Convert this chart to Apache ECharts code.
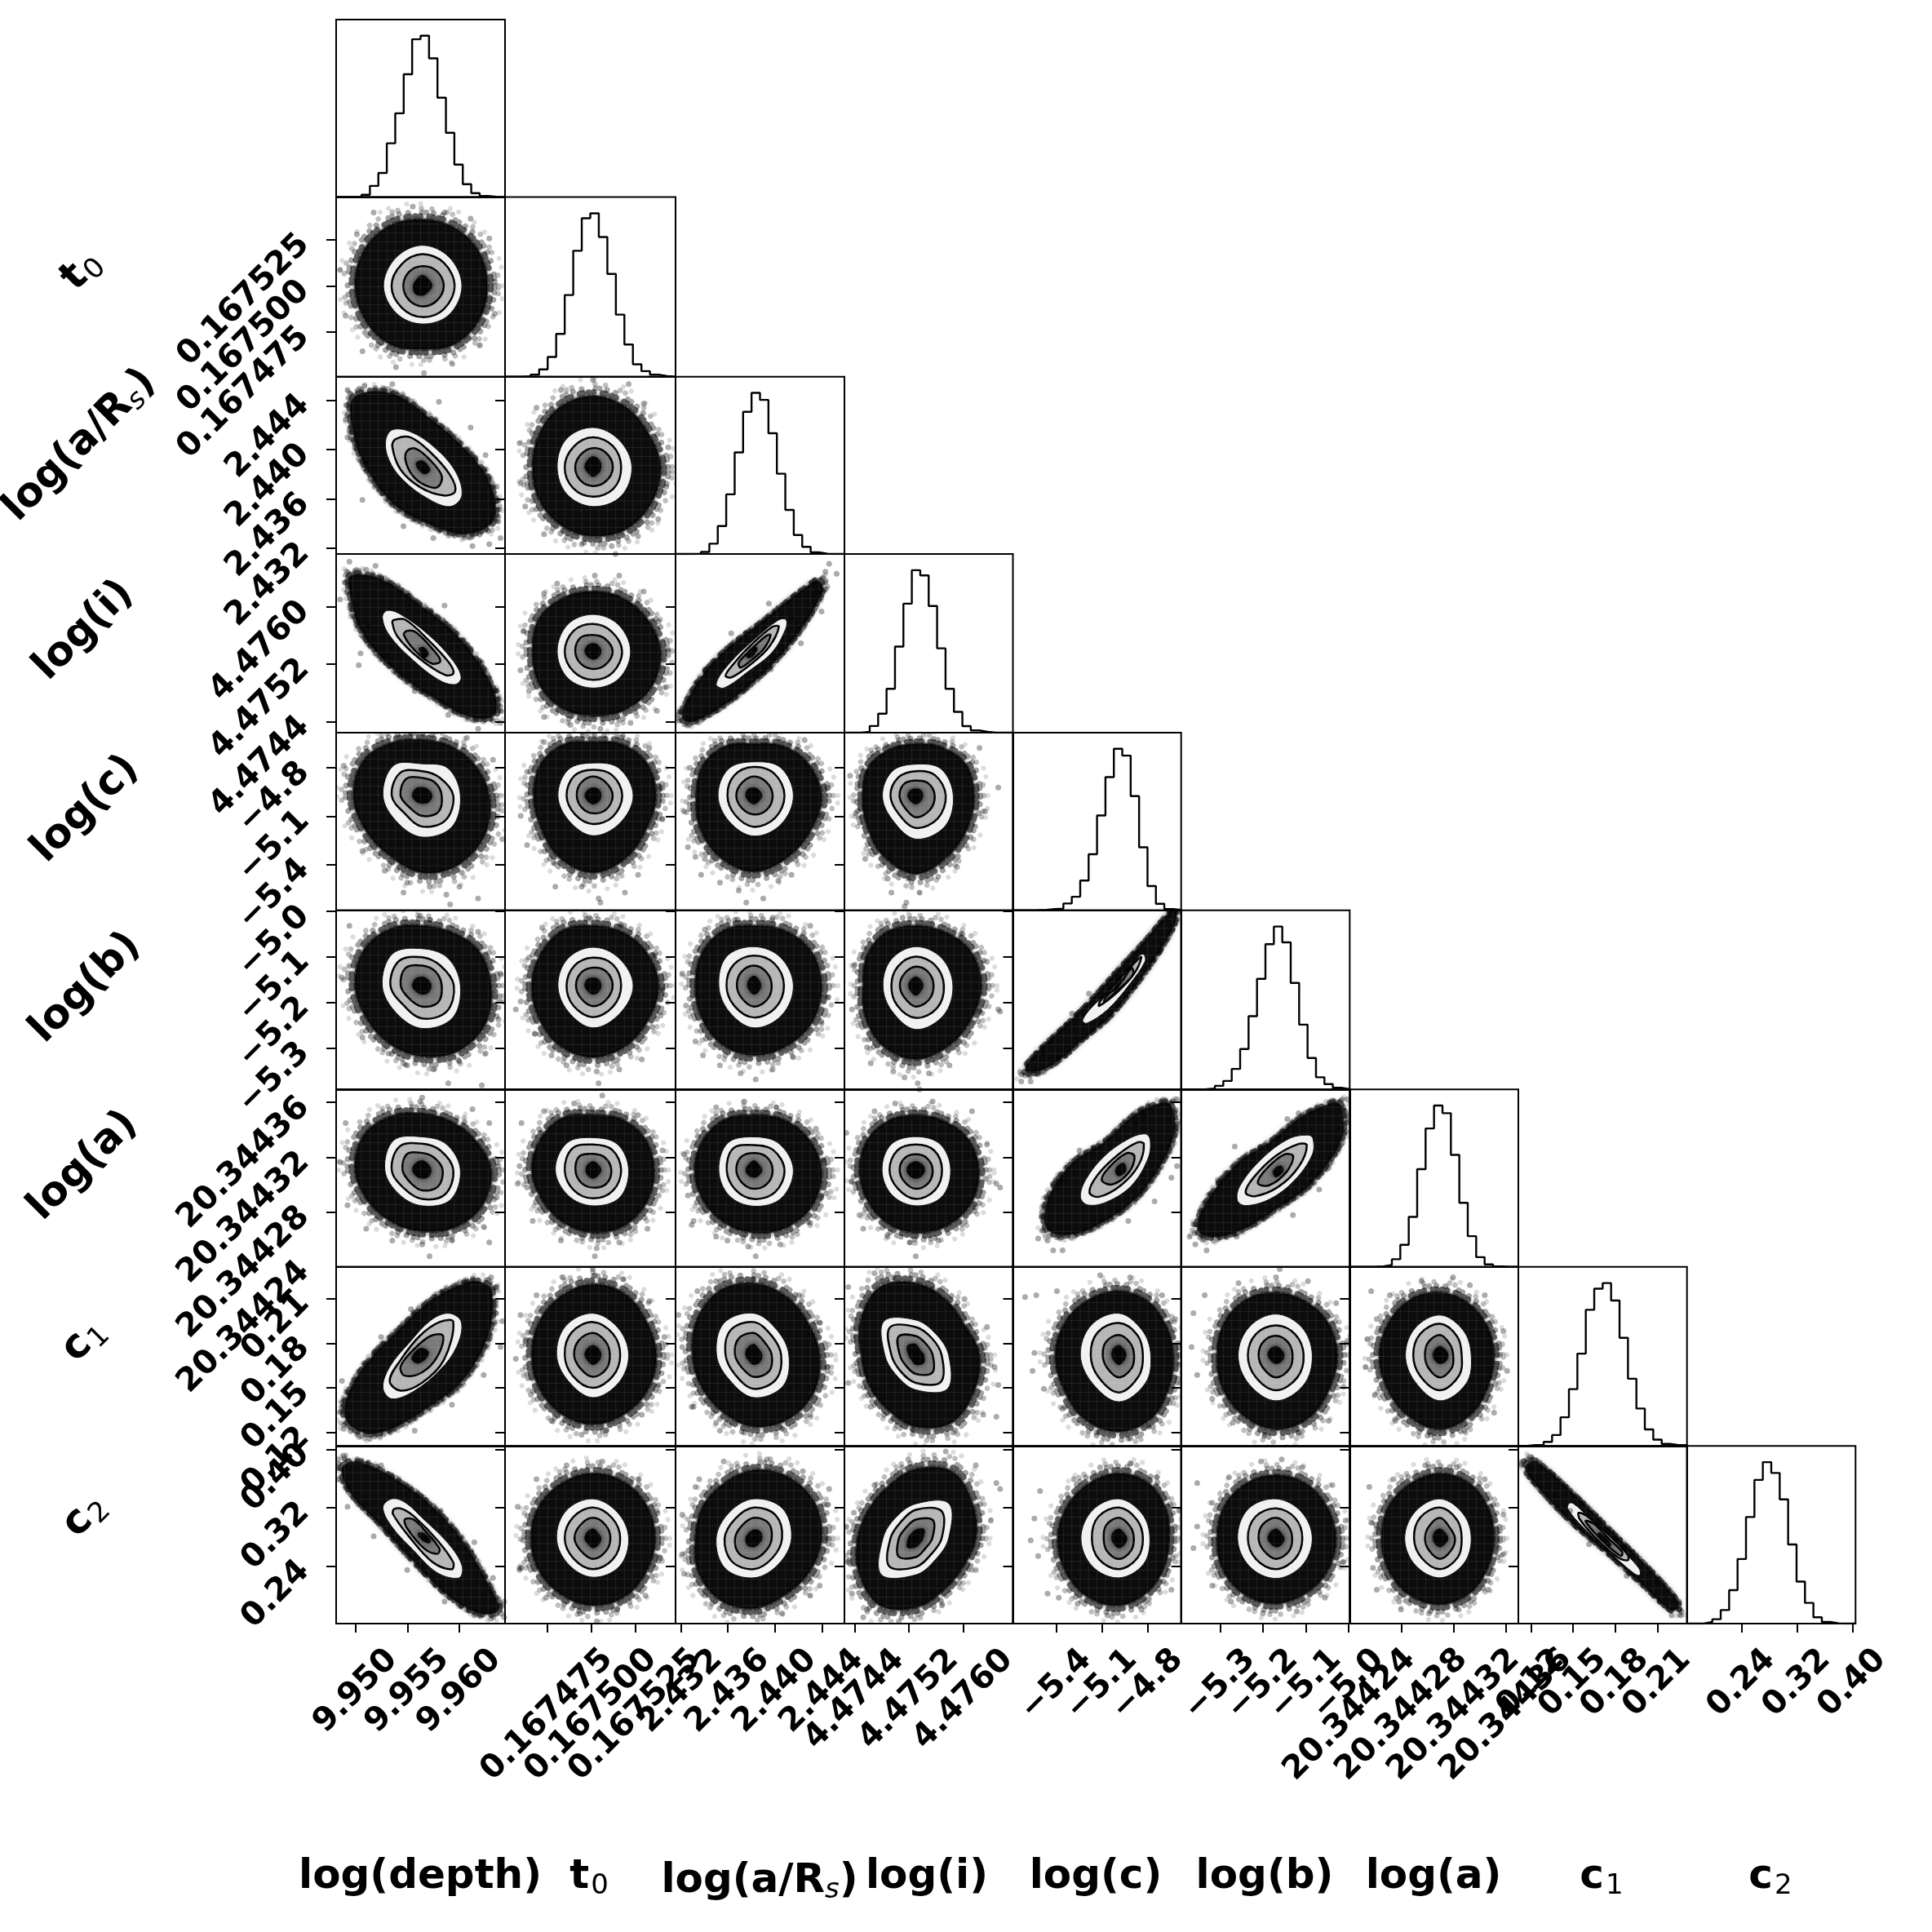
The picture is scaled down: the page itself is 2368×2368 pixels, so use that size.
<!DOCTYPE html>
<html>
<head>
<meta charset="utf-8">
<title>corner plot</title>
<script src="https://cdn.jsdelivr.net/npm/echarts@6/dist/echarts.min.js"></script>
<style>
html,body{margin:0;background:#fff}
#main{width:2368px;height:2368px;filter:blur(0.6px)}
</style>
</head>
<body>
<div id="main"></div>
<script>
//axis limits per parameter
var axisMin = [9.9481, 0.16745100, 2.43155, 4.47425, -5.6845, -5.391, 20.34424, 0.11111, 0.16118];
var axisMax = [9.9644, 0.16754800, 2.44590, 4.47673, -4.5818, -4.9977, 20.3443695, 0.23114, 0.4046];

//tick values and labels
var ticks_0 = [9.950, 9.955, 9.960];
var ticks_1 = [0.167475, 0.167500, 0.167525];
var ticks_2 = [2.432, 2.436, 2.440, 2.444];
var ticks_3 = [4.4744, 4.4752, 4.4760];
var ticks_4 = [-5.4, -5.1, -4.8];
var ticks_5 = [-5.3, -5.2, -5.1, -5.0];
var ticks_6 = [20.34424, 20.34428, 20.34432, 20.34436];
var ticks_7 = [0.12, 0.15, 0.18, 0.21];
var ticks_8 = [0.24, 0.32, 0.40];
var labels_0 = ['9.950', '9.955', '9.960'];
var labels_1 = ['0.167475', '0.167500', '0.167525'];
var labels_2 = ['2.432', '2.436', '2.440', '2.444'];
var labels_3 = ['4.4744', '4.4752', '4.4760'];
var labels_4 = ['−5.4', '−5.1', '−4.8'];
var labels_5 = ['−5.3', '−5.2', '−5.1', '−5.0'];
var labels_6 = ['20.34424', '20.34428', '20.34432', '20.34436'];
var labels_7 = ['0.12', '0.15', '0.18', '0.21'];
var labels_8 = ['0.24', '0.32', '0.40'];

//histogram heights, percent of the tallest bin, 20 bins
var hist_0 = [0, 0, 0, 1.4, 6.9, 14.9, 33.3, 51.9, 76.1, 97.8, 100, 86, 61.6, 39.8, 20.1, 8, 2.4, 0.7, 0.2, 0];
var hist_1 = [0, 0, 0.2, 1.2, 4.5, 12.1, 26.2, 50, 77.1, 97, 100, 85.5, 62.9, 38, 19.7, 7.6, 3.4, 1.2, 0.4, 0];
var hist_2 = [0, 0, 0.2, 1.3, 6.4, 17.3, 37, 63, 88.2, 100, 95.6, 74.9, 49.8, 27.3, 11.8, 4.4, 1, 0.2, 0, 0];
var hist_3 = [0, 0, 0.5, 4.1, 11.7, 27, 53, 79.4, 100, 96.8, 78, 51.9, 27, 12.8, 4, 1.4, 0.5, 0, 0, 0];
var hist_4 = [0, 0, 0.1, 0.3, 0.8, 1, 4.2, 8.4, 18.4, 34.7, 58.7, 82.5, 100, 95.8, 70.7, 39, 15, 4, 0.8, 0.2];
var hist_5 = [0, 0, 0.2, 0.5, 2.2, 5.2, 12.6, 24.8, 45, 67.9, 89.2, 100, 90.3, 65.4, 39.8, 19.3, 7.5, 3.3, 1, 0.2];
var hist_6 = [0, 0, 0, 0.2, 1.1, 4.7, 13.6, 31, 60.6, 85.8, 100, 95.3, 69.4, 39.7, 19, 6, 1.5, 0.2, 0, 0];
var hist_7 = [0, 0.5, 0.5, 2.5, 6.7, 17.6, 34.9, 56.7, 83.6, 96.6, 100, 89.3, 66.4, 41.3, 23, 10.2, 3.9, 1.3, 0.5, 0.5];
var hist_8 = [0, 0, 1, 2.7, 8.4, 20.7, 40, 66, 89, 100, 93.3, 76.9, 49, 26, 12.8, 3.9, 1, 0.2, 0, 0];

//where the densest part of each parameter sits and its spread
var centerX = [9.9564, 0.167501, 2.4382, 4.4753, -4.99, -5.1696, 20.3443094, 0.1721, 0.278];
var centerY = [9.9564, 0.1675, 2.43859, 4.47538, -4.9719, -5.163, 20.3443107, 0.1721, 0.278];
var spread = [0.0018, 1.07e-5, 0.0016, 2.76e-4, 0.123, 0.0438, 1.43e-5, 0.01336, 0.02706];

//density outlines, in spreads from the centre: [cloud, white, 1.5, 1, core]
//plain numbers are radii going counterclockwise from east, pairs are x,y
var rings_1_0 = [[3.5,3.5,3.4,3.35,3.5,3.6,3.6,3.5,3.4,3.2,3.4,3.5],[2.13,2.05,2.05,2,2.07,1.95,1.92,2.05],[1.74,1.65,1.6,1.55,1.64,1.55,1.57,1.65],[1.16,1.08,1,1,1.01,1,1.03,1.08],[.55,.5,.55,.45,.5,.55,.5,.45]];
var rings_2_0 = [[[-3.63,3.5],[-1.68,3.7],[.27,2.53],[2.4,.75],[3.63,-.89],[3.8,-2.67],[2.4,-3.36],[.62,-2.95],[-1.5,-1.85],[-3.1,.2],[-3.72,2]],[[-1.96,1.3],[-1.6,1.88],[-.62,1.78],[.62,1.03],[1.77,-.2],[2.13,-1.44],[1.5,-2],[.27,-1.58],[-1.06,-.62],[-1.77,.34]],[[-1.6,1.03],[-1.42,1.41],[-.62,1.5],[.44,.75],[1.5,-.41],[1.77,-1.23],[1.15,-1.44],[-.09,-1.03],[-1.15,-.14]],[[-.89,.34],[-.8,.82],[-.35,.93],[.44,.34],[1.06,-.48],[.8,-1.03],[.09,-.89],[-.53,-.41]],[[-.35,.14],[0,.34],[.44,-.14],[.09,-.37]]];
var rings_2_1 = [[3.6,3.4,3.5,3.6,3.5,3.3,3.2,3.3,3.4,3.5,3.6,3.6],[2.07,1.95,2,2,1.9,1.95,2,2.1],[1.5,1.5,1.5,1.45,1.5,1.5,1.5,1.55],[1.06,1,.96,.9,.94,.95,.96,1],[.45,.5,.55,.45,.45,.4,.5,.45]];
var rings_3_0 = [[[-3.8,3.77],[-2.13,3.56],[-.18,2.33],[1.95,.68],[3.72,-1.78],[3.9,-3.15],[2.66,-3.29],[.89,-2.47],[-1.42,-.96],[-3.2,.96],[-3.8,2.74]],[[-1.86,2.05],[-2.13,1.71],[-1.77,.82],[-.53,-.41],[.89,-1.44],[1.77,-1.67],[2.09,-1.3],[1.6,-.41],[.35,.82],[-1.15,1.85]],[[-1.6,1.44],[-1.5,1.58],[-.89,1.58],[.35,.55],[1.42,-.55],[1.68,-1.1],[1.24,-1.2],[-.18,-.34],[-1.33,.75]],[[-.98,.82],[-.8,1.03],[-.35,.96],[.53,.14],[.98,-.48],[.53,-.62],[-.35,0]],[[-.18,.14],[.09,.2],[.35,-.14],[.09,-.34]]];
var rings_3_1 = [[3.6,3.3,3.1,3,3.1,3.3,3.2,3.3,3.3,3.25,3.4,3.6],[2,1.9,1.85,1.9,1.9,1.9,1.85,1.95],[1.55,1.4,1.37,1.45,1.5,1.45,1.44,1.5],[1.05,.9,.82,.95,.94,.9,.89,.95],[.45,.42,.42,.42,.45,.4,.42,.42]];
var rings_3_2 = [[[3.46,3.49],[3.1,3.42],[.62,1.6],[-2.04,-.47],[-3.64,-2.7],[-3.72,-3.42],[-2.93,-3.42],[-.44,-1.85],[1.86,.34],[3.63,3]],[[1.72,1.58],[1.33,1.58],[.09,.65],[-1.33,-.65],[-2,-1.64],[-1.6,-1.85],[-.27,-1],[.98,-.04],[1.68,1.1]],[[1.33,1.23],[.98,1.23],[-.27,.2],[-1.15,-.72],[-1.5,-1.23],[-1.15,-1.3],[-.09,-.6],[.8,.2]],[[.89,.82],[.62,.75],[-.27,-.03],[-.8,-.58],[-.7,-.82],[-.09,-.42],[.53,.12]],[[.2,.15],[-.1,.2],[-.4,-.3],[-.1,-.3]]];
var rings_4_0 = [[3.6,3.2,2.9,2.8,3.1,3.6,3.7,3.5,3.5,3.9,4,3.9],[2.05,1.95,1.6,2.15,2.1,1.9,2.1,2.25],[1.67,1.3,1.23,1.64,1.63,1.3,1.57,1.77],[1.05,.95,.89,1.2,1.16,.9,1.03,1.2],[.55,.45,.42,.5,.55,.45,.42,.5]];
var rings_4_1 = [[3.35,3.3,3,2.7,3,3.2,3.15,3.2,3.6,3.9,3.6,3.3],[2.14,1.95,1.64,1.85,1.86,1.8,2.03,2],[1.56,1.45,1.3,1.4,1.4,1.35,1.44,1.5],[1.05,.95,.96,.9,.86,.85,.9,1],[.45,.45,.4,.4,.45,.4,.45,.45]];
var rings_4_2 = [[3.6,3.3,2.9,2.6,2.9,3.1,3.05,3.3,3.6,3.85,3.6,3.5],[2.1,2,1.7,1.9,1.9,1.85,2.05,2.05],[1.63,1.55,1.44,1.45,1.4,1.4,1.58,1.6],[1,.95,.96,.9,.93,.9,.96,1],[.45,.4,.4,.45,.45,.4,.45,.4]];
var rings_4_3 = [[3.1,3.1,2.8,2.6,2.7,2.9,2.83,3,3.5,3.97,3.5,3.2],[2,1.9,1.58,1.75,1.78,1.75,2.2,2.2],[1.6,1.45,1.23,1.3,1.35,1.3,1.64,1.65],[1.01,.9,.75,.85,.87,.85,1.1,1.05],[.4,.4,.35,.4,.45,.4,.45,.4]];
var rings_5_0 = [[3.7,3.5,3.1,3,3.3,3.6,3.6,3.4,3.4,3.55,3.8,3.9],[2.05,1.95,1.85,2.25,2.14,1.95,2.15,2.3],[1.7,1.4,1.42,1.75,1.7,1.4,1.65,1.85],[1.05,1,1,1.25,1.15,.95,1.05,1.2],[.5,.45,.45,.5,.55,.45,.45,.5]];
var rings_5_1 = [[3.5,3.3,3.1,3,3.2,3.2,3.25,3.3,3.5,3.6,3.5,3.4],[2.14,1.95,1.92,1.9,1.86,1.85,2.12,2],[1.5,1.5,1.4,1.4,1.4,1.45,1.58,1.5],[1.05,1,.9,.9,.9,.9,1.03,1],[.45,.45,.4,.45,.45,.4,.45,.45]];
var rings_5_2 = [[3.6,3.5,3.2,3,3.2,3.2,3.1,3.2,3.4,3.5,3.5,3.6],[2.1,2,1.95,2.05,1.86,1.85,2.12,2.1],[1.6,1.55,1.5,1.5,1.45,1.45,1.6,1.6],[.95,.95,1,.95,.9,.9,1.05,1],[.4,.4,.5,.4,.35,.35,.45,.4]];
var rings_5_3 = [[3.5,3.4,3.1,3,3.1,3,2.8,3.1,3.5,3.7,3.5,3.4],[1.98,1.95,1.95,1.85,1.75,1.8,2.2,2.1],[1.5,1.45,1.45,1.35,1.3,1.4,1.62,1.6],[.95,.95,.95,.85,.85,.85,1.05,1],[.4,.4,.45,.4,.4,.4,.5,.4]];
var rings_5_4 = [[[3.07,3.79],[2.7,3.65],[1.42,2.25],[0,.8],[-1.5,-.77],[-2.66,-1.86],[-3.96,-3],[-4.9,-4],[-4.9,-4.3],[-4.25,-4.26],[-3.1,-3.64],[-1.78,-2.55],[-.55,-1.59],[.68,-.22],[1.84,1.29],[2.86,2.93]],[[1.33,1.56],[1.1,1.5],[.1,.25],[-1.3,-.95],[-1.93,-1.73],[-1.71,-1.89],[-.6,-1.2],[.6,.1],[1.4,1.22]],[[1.2,1.42],[1,1.3],[-.25,.02],[-1,-.78],[-1.05,-1.02],[-.05,-.3],[.85,.65]],[[.68,.88],[.1,.15],[-.7,-.58],[-.77,-.8],[.1,-.1],[.75,.55]],[[.3,.4],[.1,.3],[-.4,-.3],[-.2,-.3]]];
var rings_6_0 = [[3.7,3.2,2.9,2.87,3.2,3.6,3.6,3.3,3.1,3.13,3.4,3.7],[2.05,1.85,1.69,2.15,2,1.75,1.83,2.15],[1.67,1.4,1.34,1.7,1.63,1.35,1.48,1.75],[1.1,.9,.87,1.15,1.05,.9,1.04,1.2],[.5,.45,.5,.5,.55,.45,.45,.5]];
var rings_6_1 = [[3.25,3.2,3,2.8,3.1,3.2,3.25,3.1,3.1,3.2,3.3,3.3],[1.9,1.85,1.65,1.95,2,1.85,1.83,2],[1.5,1.45,1.3,1.55,1.5,1.45,1.45,1.5],[.98,.9,.82,1,.93,.9,.9,1],[.45,.4,.45,.4,.4,.4,.45,.4]];
var rings_6_2 = [[3.6,3.3,3,2.8,3,3.1,3.14,3.1,3.1,3.2,3.4,3.6],[2.1,1.9,1.69,1.95,1.86,1.85,1.85,2.05],[1.63,1.45,1.27,1.55,1.44,1.4,1.48,1.6],[1,.95,.87,.95,.93,.9,.96,1],[.45,.4,.5,.4,.45,.4,.4,.4]];
var rings_6_3 = [[3.37,3.2,2.9,2.8,2.9,3,3,3,3.1,3.2,3.3,3.4],[1.86,1.85,1.7,1.85,1.8,1.8,1.83,1.95],[1.4,1.4,1.3,1.4,1.4,1.35,1.48,1.45],[.9,.85,.8,.85,.86,.85,.96,.95],[.5,.45,.45,.45,.5,.45,.45,.45]];
var rings_6_4 = [[[2.71,3.32],[1.99,3.32],[.83,2.77],[-.77,1.4],[-2.5,.3],[-3.74,-1.48],[-3.8,-3],[-2.5,-3.26],[-.77,-2.58],[.83,-1.48],[2.13,.16],[2.93,1.95]],[[1.67,1.53],[1.41,1.84],[.54,1.6],[-.77,.71],[-1.78,-.52],[-2.04,-1.41],[-1.64,-1.79],[-.62,-1.62],[.68,-.79],[1.55,.58]],[[1.33,1.33],[.97,1.4],[-.04,.78],[-1.13,-.25],[-1.57,-1.14],[-1.06,-1.37],[.1,-.79],[1.04,.23]],[[.83,.71],[.39,.85],[-.55,.1],[-.91,-.52],[-.33,-.73],[.54,-.11]],[[.25,.37],[-.19,.03],[-.04,-.32],[.39,-.04]]];
var rings_6_5 = [[[3.3,3.38],[2.58,3.25],[1.28,2.63],[-.32,1.4],[-2.06,.3],[-3.65,-1.62],[-4.16,-2.99],[-3.36,-3.4],[-1.77,-2.99],[.12,-1.89],[1.86,-.66],[3.45,1.53],[3.52,2.9]],[[1.97,1.6],[1.71,1.78],[.7,1.6],[-.75,.58],[-1.91,-.79],[-2.06,-1.55],[-1.62,-1.82],[-.32,-1.48],[.99,-.52],[1.93,.78]],[[1.64,1.26],[1.2,1.33],[-.03,.71],[-1.19,-.38],[-1.62,-1.14],[-1.12,-1.34],[.12,-.86],[1.2,.16]],[[.91,.71],[.41,.78],[-.54,.03],[-.97,-.66],[-.39,-.79],[.55,-.11]],[[.26,.23],[-.17,-.04],[-.03,-.38],[.41,-.04]]];
var rings_7_0 = [[[3.7,3.2],[3,3.65],[2.1,3.5],[.47,2.7],[-1.16,1.3],[-2.8,-.26],[-3.95,-2],[-4.07,-3.2],[-3,-3.9],[-1.6,-3.65],[.47,-2.5],[2.1,-1.3],[3.5,.96]],[[2.1,1.65],[1.44,2.09],[.47,1.74],[-.7,.6],[-1.74,-.6],[-2.1,-1.65],[-1.63,-2.2],[-.47,-1.83],[.93,-.78],[1.86,.43]],[[1.67,1.65],[.93,1.65],[-.12,.96],[-1.16,-.26],[-1.74,-1.3],[-1.16,-1.79],[0,-1.39],[1.16,-.26]],[[1.12,.96],[.47,.96],[-.47,.26],[-1.16,-.6],[-.93,-1.04],[0,-.87],[.81,-.09]],[[.35,.17],[-.12,.35],[-.58,-.17],[-.23,-.43],[.23,-.17]]];
var rings_7_1 = [[3.37,3.3,3.5,3.56,3.4,3.3,3.25,3.3,3.4,3.48,3.4,3.4],[1.9,1.9,2.09,2.05,1.93,1.85,2.14,1.95],[1.45,1.5,1.65,1.6,1.5,1.5,1.65,1.5],[.9,.95,1.1,1.05,1,.95,1.1,1],[.45,.45,.5,.45,.45,.4,.5,.45]];
var rings_7_2 = [[3.5,3.3,3.4,3.6,3.7,3.5,3.26,3.2,3.3,3.6,3.7,3.7],[1.86,1.75,2.09,2.25,1.98,1.8,2.14,2.2],[1.45,1.35,1.65,1.75,1.5,1.4,1.7,1.7],[.95,.85,1.1,1.15,1,.9,1.1,1.15],[.45,.4,.55,.5,.45,.4,.5,.5]];
var rings_7_3 = [[3.4,3,3.2,3.6,3.9,3.4,2.9,2.9,3.1,3.6,3.9,3.6],[1.75,1.5,1.75,2.4,1.65,1.45,1.75,2.4],[1.38,1.2,1.4,1.95,1.3,1.15,1.4,1.9],[.9,.78,.95,1.3,.85,.75,.95,1.25],[.45,.35,.55,.65,.4,.35,.5,.6]];
var rings_7_4 = [[2.9,2.9,3.1,3.2,3.2,3.3,3.4,3.4,3.7,3.85,3.6,3.1],[1.7,1.75,2.09,2.1,2.05,2,2.35,2],[1.28,1.4,1.6,1.6,1.5,1.55,1.88,1.5],[.81,.85,1,.95,.86,.9,1.13,.95],[.4,.4,.5,.45,.4,.4,.5,.4]];
var rings_7_5 = [[3.26,3.2,3.1,3.13,3.2,3.2,3.14,3.3,3.5,3.74,3.6,3.3],[1.93,1.95,2.05,2,2.02,2.05,2.3,2.1],[1.47,1.45,1.48,1.5,1.5,1.55,1.77,1.6],[.88,.9,.96,.95,.93,.95,1.13,1],[.45,.4,.45,.45,.45,.4,.45,.45]];
var rings_7_6 = [[2.9,2.9,3,3.13,3.2,3.2,3.26,3.3,3.5,3.74,3.4,3],[1.67,1.75,2,1.9,1.86,1.9,2.3,2],[1.16,1.3,1.56,1.5,1.44,1.5,1.77,1.45],[.7,.75,1,.9,.81,.9,1.13,.9],[.45,.4,.45,.4,.4,.4,.45,.45]];
var rings_8_0 = [[[-3.95,3.8],[-4.3,3.4],[-3.7,2.17],[-2.3,.78],[-.47,-1.13],[1.63,-3.04],[3.26,-3.8],[4.07,-3.57],[3.6,-2.5],[2.1,-.09],[.23,1.83],[-1.86,3.2],[-3.26,3.8]],[[-1.63,2],[-2.1,1.57],[-1.63,.6],[-.47,-.6],[.81,-1.74],[1.98,-2],[2.14,-1.39],[1.4,-.26],[0,1.04],[-.93,1.83]],[[-1.5,1.48],[-1.56,1.22],[-.7,.09],[.58,-1.22],[1.58,-1.57],[1.67,-1.22],[.81,-.09],[-.35,1.04],[-1.05,1.48]],[[-.93,.96],[-.81,.52],[.12,-.52],[.81,-.78],[.93,-.52],[.12,.43],[-.47,.96]],[[-.23,.26],[-.12,0],[.35,-.26],[.47,-.09],[.12,.26]]];
var rings_8_1 = [[3.3,3.3,3.3,3.3,3.25,3.3,3.3,3.3,3.3,3.4,3.4,3.3],[1.9,1.85,2,2,1.93,1.85,1.97,2],[1.45,1.45,1.56,1.5,1.5,1.45,1.56,1.5],[.93,.95,1.04,.95,.98,.9,1.04,.95],[.45,.4,.5,.45,.45,.4,.5,.45]];
var rings_8_2 = [[3.6,3.7,3.6,3.45,3.2,3.15,3.1,3.4,3.6,3.55,3.3,3.4],[2,2.15,2,1.85,2,2.15,2,1.85],[1.5,1.65,1.56,1.4,1.55,1.65,1.56,1.4],[.95,1.1,1.04,.9,1,1.1,1.04,.9],[.45,.5,.45,.4,.45,.5,.45,.4]];
var rings_8_3 = [[3.2,3.5,3.9,3.5,3,2.9,3.1,3.5,3.9,3.5,3,2.9],[1.75,2.5,1.75,1.5,1.75,2.6,1.85,1.5],[1.38,1.95,1.45,1.15,1.35,2,1.45,1.15],[.88,1.3,.95,.75,.9,1.3,.95,.72],[.4,.65,.45,.35,.42,.65,.45,.35]];
var rings_8_4 = [[2.67,2.9,3.2,3.3,3.2,3.2,3.26,3.3,3.4,3.4,3.1,2.8],[1.65,1.75,2,2,2.02,2,2,1.85],[1.28,1.35,1.56,1.55,1.44,1.5,1.56,1.4],[.8,.85,1.04,.95,.81,.9,1.04,.9],[.45,.4,.5,.45,.4,.4,.5,.45]];
var rings_8_5 = [[3.19,3.15,3.2,3.2,3.2,3.2,3.14,3.25,3.3,3.3,3.2,3.2],[1.93,1.9,2,2.1,2.05,2,2.03,1.95],[1.4,1.45,1.52,1.55,1.5,1.5,1.56,1.45],[.86,.9,1.04,1,.93,.9,1.04,.95],[.45,.4,.5,.45,.45,.4,.45,.45]];
var rings_8_6 = [[2.9,3,3.2,3.3,3.2,3.2,3.14,3.2,3.3,3.35,3.2,2.95],[1.67,1.75,2,1.9,1.9,1.9,2,1.8],[1.16,1.3,1.56,1.5,1.4,1.4,1.56,1.35],[.8,.75,1.04,.85,.81,.85,1.04,.85],[.45,.4,.5,.45,.4,.4,.45,.4]];
var rings_8_7 = [[[-3.74,3.89],[-4.17,3.55],[-3.6,2.73],[-1.86,.95],[.32,-.84],[2.06,-2.34],[3.51,-3.58],[3.94,-3.51],[3.65,-2.89],[2.35,-1.52],[.32,.4],[-1.57,2.18],[-3.16,3.55]],[[-1.86,1.77],[-1.93,1.49],[-1.1,.55],[.3,-.7],[1.62,-1.79],[1.91,-1.86],[1.85,-1.5],[.55,-.2],[-.8,1.05],[-1.64,1.77]],[[-1.35,1.29],[-1.28,.95],[-.41,-.01],[.75,-.97],[1.26,-1.11],[1.26,-.84],[.32,.12],[-.84,1.08]],[[-.99,.88],[-.48,.26],[.25,-.42],[.9,-.89],[.97,-.7],[.25,-.01],[-.55,.74]],[[-.2,.3],[-.35,.2],[.3,-.4],[.4,-.3]]];

//stray samples outside the dense cloud, same units
var stray_1_0 = [[1.62,-3.93],[-2.6,3.7],[-.5,4],[1.2,3.7],[2.6,3.4],[3.6,2.4],[3.9,.2],[3.9,-1.4],[3.1,-3],[-3.2,-3.3],[-4.1,-1.5],[-4.4,.8],[-3.5,2.6],[-1.4,-4.1],[.1,-4.4],[-.6,4.6]];
var stray_2_0 = [[-3.2,-1.67],[-4,3.9],[-3.1,4.1],[-4.1,2.4],[-1.6,4.2],[.9,3.3],[2.6,2],[3.4,.6],[4,-1],[4.2,-3.6],[2.7,-4],[.6,-3.6],[-1,-3],[-3,.2],[-4,1.5],[3.6,-3.9]];
var stray_2_1 = [[-3.85,-.82],[3.47,-2.64],[-3.9,1.2],[-3,3],[-1.7,3.9],[0,4.4],[1.9,4.2],[2.7,3.2],[4,1],[3.9,-1],[2.4,-3.5],[1,-4],[-.6,-3.9],[-2.6,-3.4],[-3.6,-2],[1.2,-4.4]];
var stray_3_0 = [[-3.9,4.5],[-3,4.1],[-2.5,4.3],[-4.4,2.6],[-3.4,-.7],[-2.9,1.3],[-.8,2.9],[1.2,2.3],[3.2,-.6],[4,-2],[4.2,-3.6],[3,-3.9],[1.4,-3.2],[-.4,-2],[-1.9,-.2],[-3.3,-.1]];
var stray_3_1 = [[-3.85,-.96],[-3.7,1],[-2.6,2.9],[-1.9,3.4],[.1,3.8],[1.4,3.8],[2.7,3],[3.5,1.5],[4,.1],[3.9,-1.8],[3.4,-3],[2,-3.6],[.4,-3.9],[-1.2,-3.7],[-2.6,-3.3],[-3.4,-2]];
var stray_3_2 = [[4,4.4],[3.8,4],[4.4,3.9],[3.4,3],[.8,2.4],[-1.2,.9],[-2.6,-.9],[-4,-3.2],[-4.3,-4],[-3.8,-4.2],[2,1.7],[2.5,.4],[.9,-.9],[3.6,2]];
var stray_4_0 = [[-3.9,3.2],[-4.2,1.5],[-1.4,3.3],[2.4,2.9],[3.8,1.8],[4,-.2],[4.3,-2.2],[-3.2,-2.8],[-2,-3.8],[-.8,-4.4],[.4,-4.6],[1.3,-5],[2,-4.6],[1.5,-5.5],[3,-5.2],[-1,-4.9]];
var stray_4_1 = [[-3.84,-1.03],[-3.5,1.2],[-2.6,2.7],[0,3.3],[1.6,3],[3,2.4],[3.6,.4],[3.7,-1.2],[-3.5,-2.5],[-2.1,-3.4],[-2,-4.6],[-.6,-4.6],[.3,-5.2],[.4,-5.4],[1.7,-4.9],[2.4,-4]];
var stray_4_2 = [[-3.4,1.4],[-3.7,-.8],[-3.5,-2.6],[-3.1,-3.1],[-2.6,-3.2],[-2.8,-4],[-1.8,-4.4],[-.8,-4.8],[-.4,-5.4],[.5,-5.2],[1.3,-4.3],[2,-4],[3.5,-1],[3.9,.4],[2.7,2.8],[.4,3.2]];
var stray_4_3 = [[-3.5,1],[-3.2,-.9],[-2.7,-3.2],[-1.4,-3.1],[-1.5,-4.2],[-1.3,-4.9],[-.4,-4.2],[.2,-4.9],[-.5,-5.4],[-.6,-5.6],[1.2,-4.1],[2.2,-3.6],[3.7,-.8],[4.4,.4],[3.4,2.4],[1.5,3.2]];
var stray_5_0 = [[-3.9,3],[-4.3,.4],[-3.2,-2.6],[-1.8,-3.4],[-.8,-4],[.6,-4.2],[1.4,-4.9],[3.2,-5],[3.4,-3.4],[4.1,-1.7],[4.2,.6],[3,2.7],[.4,3.3],[2,-3.8],[-1,-3.9],[-.1,3.5]];
var stray_5_1 = [[-3.84,-.8],[-4.1,-1.2],[-3.4,1.4],[-2.7,2.9],[-.2,3.4],[1.5,3],[3.3,1.5],[3.7,-.2],[3.6,-1.5],[-3.1,-2.4],[-2.2,-3.5],[-1.4,-4],[.2,-4.3],[.3,-4.9],[1.4,-4.2],[2.6,-3.7]];
var stray_5_2 = [[-3.8,.6],[-3.6,-1],[-3.1,-2.8],[-2.7,-3.5],[-1.8,-4],[-.7,-4.4],[.1,-4.7],[1,-4.2],[2.1,-3.6],[3.6,-1.9],[3.9,-.6],[3.9,1],[3,3],[1,3.4],[-1,3.3],[-2.6,2.8]];
var stray_5_3 = [[-3.3,1],[-3.4,-1.2],[-2.6,-3.1],[-2.4,-3.9],[-1.2,-4.3],[-.6,-4.6],[.1,-4.9],[.2,-5.2],[.7,-4.4],[1.8,-4],[3.4,-1.3],[4.4,-1.2],[4.5,-1.3],[3.8,1.2],[2.4,2.6],[-.7,3.4]];
var stray_5_4 = [[3.5,3.8],[3.1,4],[-5,-4.5],[-5.2,-4.8],[-4.7,-4.8],[-4,-3.4],[-2.5,-1.4],[1,1.6],[2.2,1.7],[-1.6,-.4],[-3.2,-3.6],[.6,.9]];
var stray_6_0 = [[-4.1,2.4],[-4.4,.4],[-4,-1.8],[-3,-3],[-1.6,-3.6],[0,-3.8],[.4,-4.4],[1.6,-3.6],[3.3,-2.9],[3.6,-3.7],[4,-1.4],[4.1,.2],[3.6,2.4],[2.7,3.1],[0,3.7],[-.1,3.5]];
var stray_6_1 = [[-3.9,.2],[-4,-.7],[-3.8,2.4],[-2.6,3],[-1,3.4],[.5,3.8],[2.4,2.8],[3.7,1],[3.5,-1.3],[2.9,-3],[1.4,-3.7],[.2,-4],[.1,-4.4],[-1.7,-3.6],[-3.2,-2.6],[-3.5,-.9]];
var stray_6_2 = [[-3.7,.8],[-3.5,-1.3],[-3.2,-2.6],[-3.3,-2.8],[-2,-3.4],[-1.4,-3.6],[-.3,-3.9],[.1,-4.4],[1.4,-3.8],[3,-2.7],[3.6,-1.4],[3.7,.5],[3.3,2.1],[-2,3.2],[-.5,3.5],[1.2,3.2]];
var stray_6_3 = [[-3.7,1.9],[-3.4,-.6],[-3,-2.3],[-2.8,-3],[-1.5,-3.4],[-.3,-3.7],[0,-4.4],[1.2,-3.6],[3.2,-1.9],[4.3,-.7],[4.5,-.9],[3.8,1.3],[3,3],[.9,3.5],[-1.1,3.4],[-2.2,3]];
var stray_6_4 = [[3.1,3.6],[3.4,3.1],[1.3,2.8],[.9,2.4],[-2.1,1],[-3,-.5],[-4.1,-2.4],[-4.3,-3.5],[-3.8,-3.6],[-3,-4.1],[-3.5,-4.1],[.5,-2.6],[1.9,-1.6],[3.1,.2],[2.8,-.4]];
var stray_6_5 = [[3.8,3.6],[3.6,3.2],[1.2,2.9],[.6,2.6],[-2.2,1.2],[-3.1,-.5],[-4.6,-3.4],[-4.3,-3.8],[-3.9,-3.3],[-3.7,-4.1],[-2.1,-3.4],[.9,-2.3],[2.3,-1],[2.8,.1],[3.7,2.6]];
var stray_7_0 = [[4,3.4],[3.7,3.9],[2.4,3.6],[1.1,3.2],[-.6,2.3],[-2.2,.9],[-4.3,-1.3],[-4.3,-2.4],[-4.2,-3.7],[-2.8,-4.2],[-.4,-3.8],[1.6,-2.5],[3.3,-1],[4.2,.4],[4.3,1.7]];
var stray_7_1 = [[-3.85,2],[-3.6,.7],[-3,3],[-1.6,3.9],[.1,4],[1.6,3.8],[3,2.7],[3.8,.9],[3.5,-1.5],[2.6,-3],[.7,-3.8],[-.6,-4],[-2.2,-3.3],[-3.3,-2],[-4.1,-.2],[0,4.3]];
var stray_7_2 = [[-4,2],[-3.8,.4],[-3,3.2],[-2,3.7],[0,3.8],[2.4,3],[3.5,1.6],[3.9,-.6],[3,-3],[1.5,-3.7],[-.5,-3.9],[-2,-3.4],[-3.3,-2.6],[-4.3,-1],[-3.2,-2.6],[-1.8,-3.8]];
var stray_7_3 = [[-4.1,3.8],[-3.6,3.4],[-2.2,4.1],[-1.2,3.9],[.9,3.3],[2.6,2.8],[3.8,1.4],[4.2,-.6],[3.6,-3],[4.3,-3.1],[2,-3.9],[-.2,-3.7],[-2.4,-2.6],[-3.6,-1.4],[-4.3,.2],[4.4,-1.5]];
var stray_7_4 = [[-5,2.9],[-4.4,3],[-3.3,3.2],[-1,4],[.6,3.9],[2.3,3],[3,1.8],[3.4,-.6],[2.7,-2.4],[1.6,-3.6],[.5,-4.2],[-1.2,-3.9],[-3,-2.7],[-4,-1.7],[-4.5,.1],[-4.6,-.8]];
var stray_7_5 = [[-4.4,2.1],[-3.8,3],[-2,3.6],[0,3.9],[1.7,3.7],[3.2,2.6],[3.8,.7],[3.6,-1.6],[2.8,-3.3],[1.2,-3.9],[-.6,-4],[-2.3,-3.4],[-3.4,-2.2],[-4.2,-1],[-4.5,.4],[.2,4.3]];
var stray_7_6 = [[-3.7,3.2],[-3.4,1.8],[-2.7,3],[-1,3.7],[.7,3.9],[2.4,3],[3.4,1.2],[3.6,-.8],[2.9,-2.9],[1.3,-3.8],[-.5,-4],[-2.4,-3.3],[-3.5,-2],[-4,-.6],[-3.9,.8],[1.6,3.5]];
var stray_8_0 = [[-4.5,4],[-4.2,4.2],[-4.5,3],[-2.2,3.7],[-.6,2.5],[1,1.4],[2.8,-.2],[3.8,-2],[4.4,-3.2],[4.4,-4],[2.8,-3.9],[1.2,-3.2],[-.8,-1.6],[-2.6,.1],[-4,1.6]];
var stray_8_1 = [[-4,1.6],[-3.8,-1.5],[-3,3],[-1.4,3.7],[.5,3.9],[2.4,3],[3.4,1.4],[3.6,-1],[2.8,-2.9],[1.3,-3.6],[-.7,-3.8],[-2.5,-3],[-3.9,-1.5],[-3.9,-1.6],[-3.7,-.1],[.2,-4.2]];
var stray_8_2 = [[-3.8,1.2],[-3.8,-.8],[-2.9,3],[-1.6,3.9],[.7,4],[2.6,3.4],[3.9,1.7],[3.9,0],[3,-2.9],[1.5,-3.8],[-.7,-3.7],[-2.6,-2.9],[-3.7,-1.8],[4,2.5],[3.5,-2.4],[-3.1,2.6]];
var stray_8_3 = [[-3.7,.6],[-3.6,-1.2],[-3.4,-2.8],[-2.6,-3.6],[-2.8,-4],[-.9,-4.2],[1.4,-3.4],[3.2,-1.6],[4,.9],[4.5,2.5],[4.3,2.8],[3.2,3.7],[1.6,4.4],[-.4,4],[-2.2,2.7],[-3.3,1.3]];
var stray_8_4 = [[-4.7,-.1],[-4.2,2.4],[-3.8,-2.8],[-3.2,-3],[-2.4,3],[-1,3.6],[.6,3.8],[2,3.1],[3.2,1.4],[3.4,-.9],[2.8,-2.6],[1.2,-3.6],[-.6,-3.9],[-2.2,-3.3],[-4.3,-.9],[-4.5,1]];
var stray_8_5 = [[-4.2,2.8],[-4.2,.6],[-4.4,-.5],[-3.4,-2.4],[-2.4,-3.2],[-.7,-3.8],[1.1,-3.7],[2.6,-3],[3.6,-1.2],[3.7,.9],[3,2.7],[1.4,3.6],[-.8,3.9],[-2.5,3.1],[.3,4],[-3.4,1.8]];
var stray_8_6 = [[-3.8,2.6],[-3.6,-1.5],[-3.4,-2.6],[-2.2,-3.2],[-2.1,-3.6],[-.6,-3.8],[1,-3.6],[2.6,-2.6],[3.4,-.8],[3.4,1.2],[2.4,3],[.9,3.6],[-.8,3.7],[-2.5,3],[-3.4,.5],[-3.7,.8]];
var stray_8_7 = [[-4.3,3.9],[-4.1,4],[4,-3.6],[4,-3.2],[3.6,-3.9],[4.1,-3.9],[-2.6,2.2],[-1.8,1.4],[1,-.5],[2.8,-2.2],[1.2,-1.9],[-.8,-.3]];

//layout of the panels on the page
var colEdges = [412, 619, 828, 1035, 1241.5, 1447.7, 1654.3, 1861, 2067.7, 2274.3];
var rowEdges = [24, 241.5, 461.7, 679, 898, 1115.7, 1335.3, 1552.7, 1772.3, 1990];
var xLabelGap = [83, 112, 83, 93, 75, 75, 112, 73, 73];

var titleFont = '"DejaVu Sans"';
var titleRich = {
    b: {fontFamily: titleFont, fontWeight: 'bold', fontSize: 50, fill: '#000', lineHeight: 64},
    s: {fontFamily: titleFont, fontWeight: 'normal', fontSize: 34, fill: '#000', lineHeight: 64, padding: [22, 0, 0, 2]},
    si: {fontFamily: titleFont, fontWeight: 'normal', fontStyle: 'italic', fontSize: 34, fill: '#000', lineHeight: 64, padding: [22, 0, 0, 0]}
};
var paramTitles = ['{b|log(depth)}', '{b|t}{s|0}', '{b|log(a/R}{si|s}{b|)}', '{b|log(i)}', '{b|log(c)}', '{b|log(b)}', '{b|log(a)}', '{b|c}{s|1}', '{b|c}{s|2}'];
//centre of each title: bottom row, then rotated at the left
var bottomTitleX = [515, 722, 931, 1136, 1343, 1550, 1757, 1963, 2170];
var bottomTitleY = [2301, 2301, 2306, 2301, 2301, 2301, 2301, 2301, 2301];
var leftTitleX = [0, 100, 98, 103, 105, 105, 102, 103, 104];
var leftTitleY = [0, 332, 546, 773, 992, 1211, 1429, 1643, 1858];

//fuzz around the cloud: outline scale, opacity, dot size, gaps
var fuzzScaleRound = [1.24, 1.17, 1.11, 1.05];
var fuzzScaleLong = [1.1, 1.07, 1.05, 1.02];
var fuzzAlpha = [0.14, 0.26, 0.36, 0.6];
var fuzzDot = [6, 6.5, 7, 7.5];
var fuzzGap = [
    [0.1, 23, 0.1, 11, 0.1, 37, 0.1, 17],
    [0.1, 13, 0.1, 29, 0.1, 7, 0.1, 19],
    [0.1, 9, 0.1, 5, 0.1, 17, 0.1, 11],
    [0.1, 7, 0.1, 4, 0.1, 11, 0.1, 6]
];
var curve = 0.36;

function ticksOf(i) { return window['ticks_' + i]; }
function labelsOf(i) { return window['labels_' + i]; }

//labels sit between two blank ones at the axis ends, otherwise echarts drops the crowded end labels
function labelValues(i) {
    return [axisMin[i]].concat(ticksOf(i), [axisMax[i]]);
}

function labelFor(i, v) {
    var t = ticksOf(i), best = 0;
    for (var k = 0; k < t.length; k++) {
        if (Math.abs(t[k] - v) < Math.abs(t[best] - v)) best = k;
    }
    if (Math.abs(t[best] - v) > Math.abs(t[1] - t[0]) * 0.01) return '';
    return labelsOf(i)[best];
}

function toData(z, r, c) {
    return [centerX[c] + z[0] * spread[c], centerY[r] + z[1] * spread[r]];
}

function ringPoints(ring, r, c, api, scale) {
    var s = scale || 1;
    return ring.map(function (p, k) {
        var z = p;
        if (typeof p === 'number') {
            var a = k / ring.length * Math.PI * 2;
            z = [p * Math.cos(a), p * Math.sin(a)];
        }
        return api.coord(toData([z[0] * s, z[1] * s], r, c));
    });
}

function panelRender(r, c) {
    var rings = window['rings_' + r + '_' + c];
    var isLong = typeof rings[0][0] !== 'number';
    return function (params, api) {
        var kids = [];
        var cloud = ringPoints(rings[0], r, c, api);
        var scales = isLong ? fuzzScaleLong : fuzzScaleRound;
        scales.forEach(function (s, i) {
            kids.push({type: 'polygon', shape: {points: ringPoints(rings[0], r, c, api, s), smooth: curve}, style: {fill: 'none', stroke: 'rgba(0,0,0,' + fuzzAlpha[i] + ')', lineWidth: fuzzDot[i], lineDash: fuzzGap[i], lineCap: 'round'}});
        });
        kids.push({type: 'polygon', shape: {points: cloud, smooth: curve}, style: {fill: '#0c0c0c', stroke: 'rgba(0,0,0,0.6)', lineWidth: 3, shadowBlur: 7, shadowColor: 'rgba(0,0,0,0.6)'}});
        kids.push({type: 'polygon', shape: {points: ringPoints(rings[1], r, c, api), smooth: curve}, style: {fill: '#f1f1f1', stroke: '#0c0c0c', lineWidth: 1}});
        kids.push({type: 'polygon', shape: {points: ringPoints(rings[2], r, c, api), smooth: curve}, style: {fill: '#b6b6b6', stroke: '#000', lineWidth: 2.5}});
        kids.push({type: 'polygon', shape: {points: ringPoints(rings[3], r, c, api), smooth: curve}, style: {fill: '#7a7a7a', stroke: '#000', lineWidth: 2.5}});
        kids.push({type: 'polygon', shape: {points: ringPoints(rings[4], r, c, api), smooth: curve}, style: {fill: '#050505', shadowBlur: 6, shadowColor: 'rgba(0,0,0,0.8)'}});
        //faint histogram cells showing through the dark part
        for (var k = 1; k < 20; k++) {
            var xv = axisMin[c] + (axisMax[c] - axisMin[c]) * k / 20;
            var yv = axisMin[r] + (axisMax[r] - axisMin[r]) * k / 20;
            var a = api.coord([xv, axisMin[r]]), b = api.coord([xv, axisMax[r]]);
            var d = api.coord([axisMin[c], yv]), e = api.coord([axisMax[c], yv]);
            kids.push({type: 'line', shape: {x1: a[0], y1: a[1], x2: b[0], y2: b[1]}, style: {stroke: 'rgba(255,255,255,0.09)', lineWidth: 1}});
            kids.push({type: 'line', shape: {x1: d[0], y1: d[1], x2: e[0], y2: e[1]}, style: {stroke: 'rgba(255,255,255,0.09)', lineWidth: 1}});
        }
        return {type: 'group', children: kids};
    };
}

var grids = [], xAxes = [], yAxes = [], series = [], graphics = [];
var lineStyle = {color: '#000', width: 2};
var labelStyle = {show: true, color: '#000', fontFamily: '"DejaVu Sans"', fontWeight: 'bold', fontSize: 40, rotate: 45};

for (var r = 0; r < 9; r++) {
    for (var c = 0; c <= r; c++) {
        (function (r, c) {
            var idx = grids.length;
            var diag = r === c;
            grids.push({
                left: colEdges[c], top: rowEdges[r],
                width: colEdges[c + 1] - colEdges[c], height: rowEdges[r + 1] - rowEdges[r],
                show: true, borderColor: '#000', borderWidth: 2, backgroundColor: 'transparent',
                containLabel: false, outerBoundsMode: 'none'
            });
            xAxes.push({
                gridIndex: idx, type: 'value', min: axisMin[c], max: axisMax[c], z: 3, position: 'bottom',
                axisLine: {show: true, onZero: false, lineStyle: lineStyle},
                splitLine: {show: false},
                axisTick: {show: r === 8, length: 11, lineStyle: lineStyle, customValues: ticksOf(c)},
                axisLabel: r === 8 ? Object.assign({}, labelStyle, {
                    customValues: labelValues(c), margin: xLabelGap[c], align: 'center', verticalAlign: 'middle',
                    formatter: function (v) { return labelFor(c, v); }
                }) : {show: false}
            });
            yAxes.push({
                gridIndex: idx, type: 'value', z: 3, position: 'left',
                min: diag ? 0 : axisMin[r], max: diag ? 110 : axisMax[r],
                axisLine: {show: true, onZero: false, lineStyle: lineStyle},
                splitLine: {show: false},
                axisTick: {show: !diag, length: 12, lineStyle: lineStyle, customValues: diag ? undefined : ticksOf(r)},
                axisLabel: (!diag && c === 0) ? Object.assign({}, labelStyle, {
                    customValues: labelValues(r), margin: 39, align: 'right', verticalAlign: 'middle',
                    formatter: function (v) { return labelFor(r, v); }
                }) : {show: false}
            });
            if (diag) {
                var h = window['hist_' + r];
                var steps = h.map(function (v, k) {
                    return [axisMin[r] + (axisMax[r] - axisMin[r]) * k / 20, v];
                });
                steps.push([axisMax[r], h[19]]);
                series.push({
                    type: 'line', xAxisIndex: idx, yAxisIndex: idx, step: 'end', data: steps, z: 1,
                    symbol: 'none', silent: true, lineStyle: {color: '#000', width: 2.4}
                });
            } else {
                series.push({
                    type: 'scatter', xAxisIndex: idx, yAxisIndex: idx, z: 1, silent: true, symbolSize: 7,
                    itemStyle: {color: '#000', opacity: 0.33},
                    data: window['stray_' + r + '_' + c].map(function (z) { return toData(z, r, c); })
                });
                series.push({
                    type: 'custom', xAxisIndex: idx, yAxisIndex: idx, z: 1, silent: true, clip: true,
                    renderItem: panelRender(r, c),
                    encode: {x: 0, y: 1},
                    data: [[centerX[c], centerY[r]]]
                });
            }
        })(r, c);
    }
}

paramTitles.forEach(function (t, i) {
    graphics.push({
        type: 'text', x: bottomTitleX[i], y: bottomTitleY[i], silent: true,
        style: {text: t, rich: titleRich, align: 'center', verticalAlign: 'middle'}
    });
    if (i > 0) {
        graphics.push({
            type: 'text', x: leftTitleX[i], y: leftTitleY[i], rotation: Math.PI / 4, silent: true,
            style: {text: t, rich: titleRich, align: 'center', verticalAlign: 'middle'}
        });
    }
});

var chart = echarts.init(document.getElementById('main'), null, {width: 2368, height: 2368});
chart.setOption({
    animation: false,
    backgroundColor: '#fff',
    grid: grids,
    xAxis: xAxes,
    yAxis: yAxes,
    series: series,
    graphic: graphics
});
</script>
</body>
</html>
